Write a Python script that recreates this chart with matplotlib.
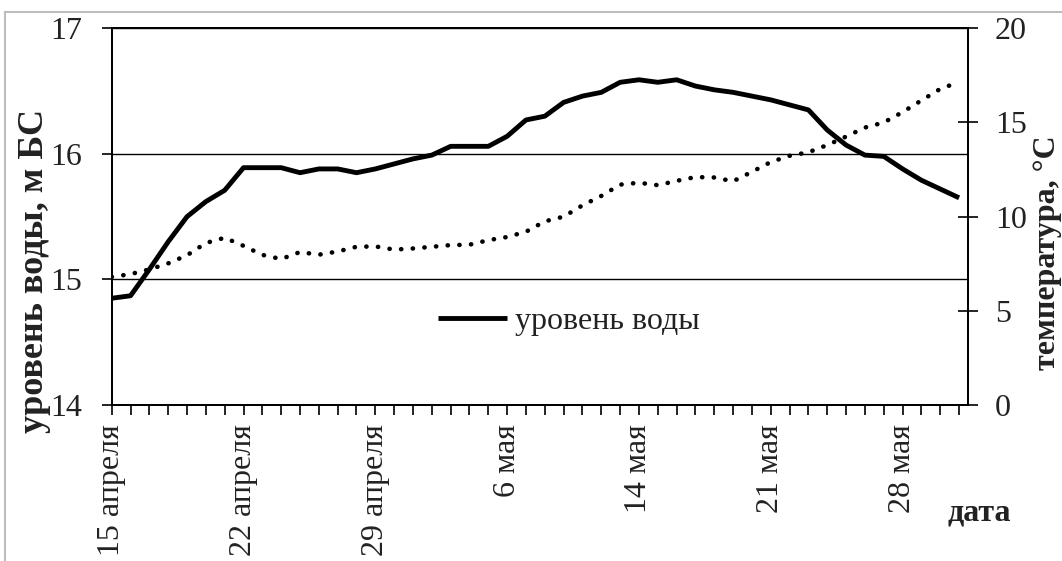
import matplotlib
matplotlib.use("Agg")
import matplotlib.pyplot as plt
from matplotlib.lines import Line2D

# ---- data ----
label_positions = [0, 7, 14, 21, 28, 35, 42]
label_texts = ["15 апреля", "22 апреля", "29 апреля", "6 мая", "14 мая", "21 мая", "28 мая"]

water_level = [14.85, 14.87, 15.08, 15.30, 15.50, 15.62, 15.71, 15.89, 15.89, 15.89,
               15.85, 15.88, 15.88, 15.85, 15.88, 15.92, 15.96, 15.99, 16.06, 16.06,
               16.06, 16.14, 16.27, 16.30, 16.41, 16.46, 16.49, 16.57, 16.59, 16.57,
               16.59, 16.54, 16.51, 16.49, 16.46, 16.43, 16.39, 16.35, 16.19, 16.07,
               15.99, 15.98, 15.88, 15.79, 15.72, 15.65]

temperature = [6.80, 6.95, 7.20, 7.52, 7.95, 8.60, 8.88, 8.45, 7.97, 7.75,
               8.12, 7.98, 8.15, 8.40, 8.42, 8.25, 8.31, 8.40, 8.49, 8.51,
               8.75, 8.92, 9.20, 9.75, 10.00, 10.60, 11.10, 11.70, 11.80, 11.67,
               11.90, 12.10, 12.08, 11.88, 12.38, 12.90, 13.23, 13.42, 13.80, 14.25,
               14.73, 15.00, 15.55, 16.17, 16.78, 17.15]

left_ticks = [14, 15, 16, 17]
right_ticks = [0, 5, 10, 15, 20]

W, H = 1062, 561
plt.rcParams["font.family"] = ["Liberation Serif", "DejaVu Serif"]
fig = plt.figure(figsize=(W / 100, H / 100), dpi=100)

L, R, B, T = 111.7, 968.5, 405.0, 28.3
ax = fig.add_axes([L / W, 1 - B / H, (R - L) / W, (B - T) / H])
ax2 = ax.twinx()

n = len(water_level)
x = list(range(n))

ax.plot(x, water_level, color="black", lw=3.5, solid_joinstyle="round",
        solid_capstyle="butt", label="уровень воды", zorder=3)
ax2.plot(x, temperature, color="black", lw=3.3, linestyle=(0, (0.05, 2.5)),
         dash_capstyle="round", zorder=2)

ax.set_xlim(0, 45.5)
ax.set_ylim(14, 17)
ax2.set_ylim(0, 20)

ax.set_yticks(left_ticks)
ax2.set_yticks(right_ticks)
ax.set_xticks(x)
labels = [""] * n
for p, t in zip(label_positions, label_texts):
    labels[p] = t
ax.set_xticklabels(labels, rotation=90)

for a in (ax, ax2):
    for s in a.spines.values():
        s.set_linewidth(1.3)
        s.set_color("black")

ax.grid(axis="y", color="black", lw=1.0)
ax.set_axisbelow(True)

fs = 23
tc = "#222222"
ax.tick_params(axis="y", direction="out", length=7, width=1.2, pad=14,
               labelsize=fs, colors="black", labelcolor=tc)
ax.tick_params(axis="x", direction="out", length=7, width=1.2, pad=7,
               labelsize=fs, colors="black", labelcolor=tc)
ax2.tick_params(axis="y", direction="inout", length=14, width=1.2, pad=12,
                labelsize=fs, colors="black", labelcolor=tc)

leg = ax.legend(loc="center left", bbox_to_anchor=(438 / W, 1 - 321.7 / H),
                bbox_transform=fig.transFigure, frameon=False, fontsize=fs,
                handlelength=2.15, handletextpad=0.25, borderpad=0, borderaxespad=0)
for t in leg.get_texts():
    t.set_color(tc)

fig.text(35 / W, 1 - 271 / H, "уровень воды, м БС", rotation=90, ha="center",
         va="center", fontsize=26, fontweight="bold", color=tc)
fig.text(1047 / W, 1 - 253 / H, "температура, °С", rotation=90, ha="center",
         va="center", fontsize=fs, fontweight="bold", color=tc)
fig.text(947 / W, 1 - 520 / H, "дата", ha="left", va="baseline",
         fontsize=fs, fontweight="bold", color=tc)

# outer light border
fig.add_artist(Line2D([5 / W, 5 / W], [0, 1 - 12 / H], transform=fig.transFigure,
                      color="#bdbdbd", lw=1.5))
fig.add_artist(Line2D([5 / W, 1], [1 - 12 / H, 1 - 12 / H], transform=fig.transFigure,
                      color="#bdbdbd", lw=1.5))

fig.savefig("out.png", dpi=100)
